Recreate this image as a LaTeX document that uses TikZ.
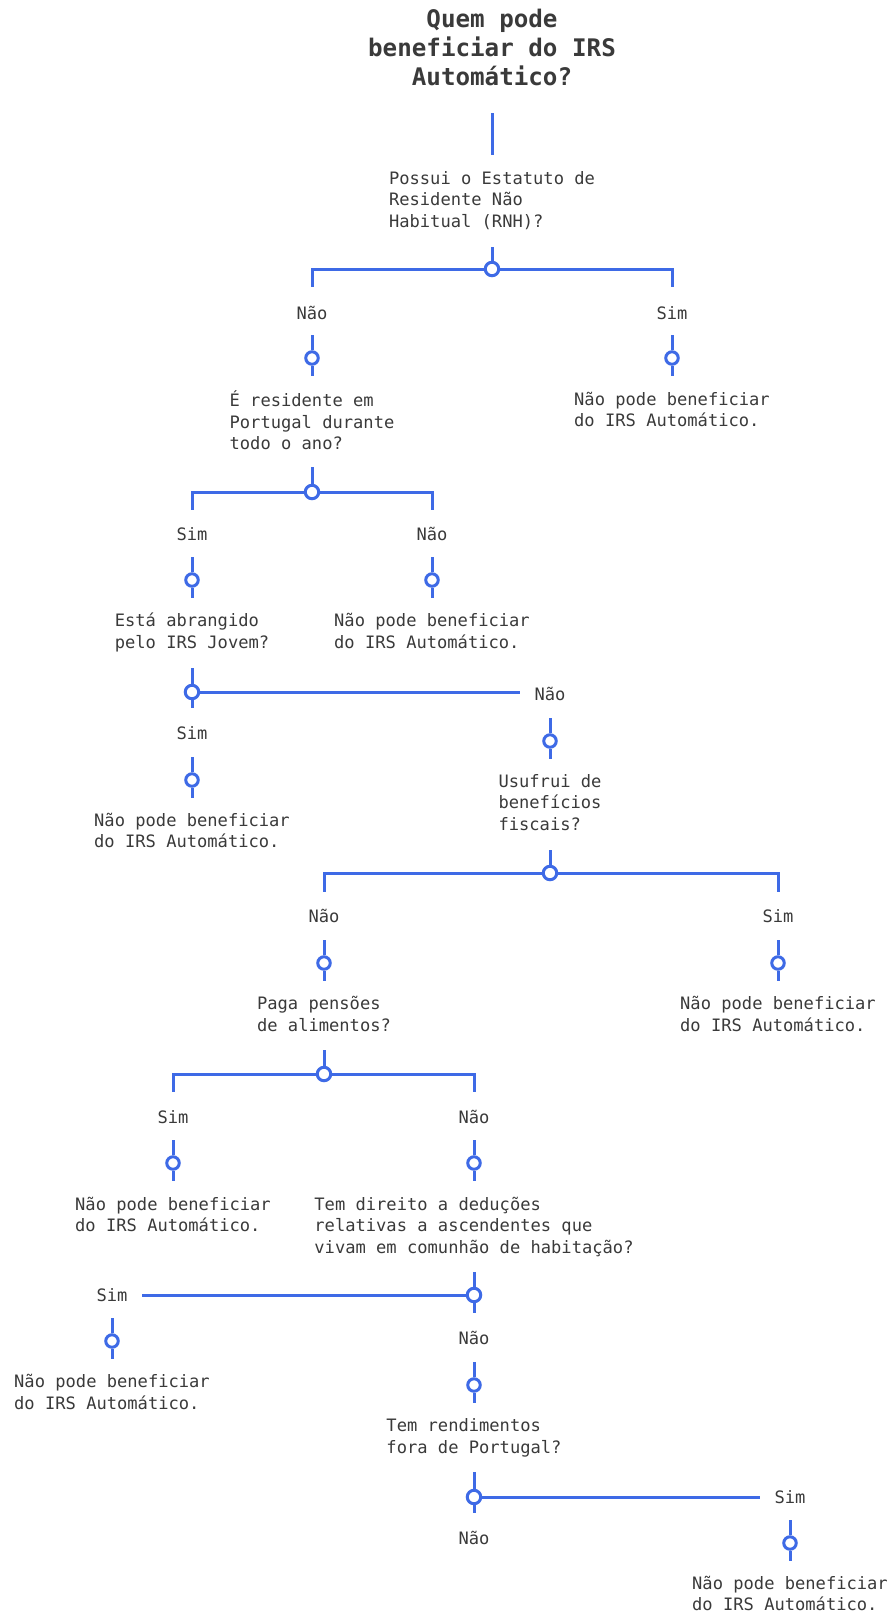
\documentclass[tikz,border=0pt]{standalone}
\usepackage{fontspec}
\newfontfamily\flowmono{DejaVu Sans Mono}
\definecolor{brand}{RGB}{62,106,230}
\definecolor{ink}{RGB}{58,58,58}
\newcommand\flowdot[3]{%
  \node[dot] (#1) at (#2,#3) {};
  \coordinate (#1t) at (#2,#3-23);
  \coordinate (#1b) at (#2,#3+18);
  \draw[lnk] (#1t) -- (#1.north);
  \draw[lnk] (#1.south) -- (#1b);}
\begin{document}
\begin{tikzpicture}[x=1pt,y=-1pt,
  lnk/.style={draw=brand,line width=3pt},
  dot/.style={circle,draw=brand,line width=3pt,fill=white,minimum size=12.5pt,inner sep=0pt},
  jdot/.style={dot,minimum size=13.5pt},
  body/.style={font=\flowmono\fontsize{17.1}{21.5}\selectfont,text=ink,inner sep=0pt,align=left,
    execute at begin node=\strut,execute at end node=\strut},
  lbl/.style={font=\flowmono\fontsize{17.1}{21.5}\selectfont,text=ink,inner sep=0pt,anchor=base,yshift=-6pt},
  ttl/.style={font=\flowmono\bfseries\fontsize{24.2}{29}\selectfont,text=ink,inner sep=0pt,align=center,
    execute at begin node=\strut,execute at end node=\strut}]
\fill[white] (0,0) rectangle (893,1615);
\useasboundingbox (0,0) rectangle (893,1615);

% title
\node[ttl] (title) at (492,52) {Quem pode\\beneficiar do IRS\\Automático?};
\coordinate (t0) at (492,113);
\coordinate (t1) at (492,155);
\draw[lnk] (t0) -- (t1);

% Q1
\node[body] (q1) at (492,202.7) {Possui o Estatuto de\\Residente Não\\Habitual (RNH)?};
\node[jdot] (ja) at (492,269) {};
\coordinate (jaT) at (492,247);
\coordinate (jaL) at (312,287);
\coordinate (jaR) at (672,287);
\draw[lnk] (jaT) -- (ja.north);
\draw[lnk] (ja.west) -| (jaL);
\draw[lnk] (ja.east) -| (jaR);
\node[lbl] (aN) at (312,313) {Não};
\node[lbl] (aS) at (672,313) {Sim};
\flowdot{d1}{312}{358}
\flowdot{d2}{672}{358}
\node[body] (q2) at (312,423.5) {É residente em\\Portugal durante\\todo o ano?};
\node[body] (e1) at (672,412.5) {Não pode beneficiar\\do IRS Automático.};

% Q2
\node[jdot] (jb) at (312,492) {};
\coordinate (jbT) at (312,467);
\coordinate (jbL) at (192,510);
\coordinate (jbR) at (432,510);
\draw[lnk] (jbT) -- (jb.north);
\draw[lnk] (jb.west) -| (jbL);
\draw[lnk] (jb.east) -| (jbR);
\node[lbl] (bS) at (192,534) {Sim};
\node[lbl] (bN) at (432,534) {Não};
\flowdot{d3}{192}{580}
\flowdot{d4}{432}{580}
\node[body] (q3) at (192,634) {Está abrangido\\pelo IRS Jovem?};
\node[body] (e2) at (432,634) {Não pode beneficiar\\do IRS Automático.};

% Q3
\node[jdot] (jc) at (192,692) {};
\coordinate (jcT) at (192,668);
\coordinate (jcB) at (192,708);
\coordinate (jcR) at (520,692);
\draw[lnk] (jcT) -- (jc.north);
\draw[lnk] (jc.south) -- (jcB);
\draw[lnk] (jc.east) -- (jcR);
\node[lbl] (cN) at (550,694) {Não};
\node[lbl] (cS) at (192,733) {Sim};
\flowdot{d5}{192}{780}
\node[body] (e3) at (192,833.5) {Não pode beneficiar\\do IRS Automático.};
\flowdot{d6}{550}{741}
\node[body] (q4) at (550,805.5) {Usufrui de\\benefícios\\fiscais?};

% Q4
\node[jdot] (jd) at (550,873) {};
\coordinate (jdT) at (550,850);
\coordinate (jdL) at (324,892);
\coordinate (jdR) at (778,892);
\draw[lnk] (jdT) -- (jd.north);
\draw[lnk] (jd.west) -| (jdL);
\draw[lnk] (jd.east) -| (jdR);
\node[lbl] (dN) at (324,916) {Não};
\node[lbl] (dS) at (778,916) {Sim};
\flowdot{d7}{324}{963}
\flowdot{d8}{778}{963}
\node[body] (q5) at (324,1017) {Paga pensões\\de alimentos?};
\node[body] (e4) at (778,1017) {Não pode beneficiar\\do IRS Automático.};

% Q5
\node[jdot] (je) at (324,1074) {};
\coordinate (jeT) at (324,1050);
\coordinate (jeL) at (173,1092);
\coordinate (jeR) at (474,1092);
\draw[lnk] (jeT) -- (je.north);
\draw[lnk] (je.west) -| (jeL);
\draw[lnk] (je.east) -| (jeR);
\node[lbl] (eS) at (173,1117) {Sim};
\node[lbl] (eN) at (474,1117) {Não};
\flowdot{d9}{173}{1163}
\flowdot{d10}{474}{1163}
\node[body] (e5) at (173,1217.5) {Não pode beneficiar\\do IRS Automático.};
\node[body] (q6) at (474,1228.5) {Tem direito a deduções\\relativas a ascendentes que\\vivam em comunhão de habitação?};

% Q6
\node[jdot] (jf) at (474,1295) {};
\coordinate (jfT) at (474,1272);
\coordinate (jfB) at (474,1313);
\coordinate (jfL) at (142,1295);
\draw[lnk] (jfT) -- (jf.north);
\draw[lnk] (jf.south) -- (jfB);
\draw[lnk] (jf.west) -- (jfL);
\node[lbl] (fS) at (112,1295) {Sim};
\node[lbl] (fN) at (474,1338) {Não};
\flowdot{d11}{112}{1341}
\node[body] (e6) at (112,1395) {Não pode beneficiar\\do IRS Automático.};
\flowdot{d12}{474}{1385}
\node[body] (q7) at (474,1439) {Tem rendimentos\\fora de Portugal?};

% Q7
\node[jdot] (jg) at (474,1497) {};
\coordinate (jgT) at (474,1472);
\coordinate (jgB) at (474,1513);
\coordinate (jgR) at (760,1497);
\draw[lnk] (jgT) -- (jg.north);
\draw[lnk] (jg.south) -- (jgB);
\draw[lnk] (jg.east) -- (jgR);
\node[lbl] (gS) at (790,1497) {Sim};
\node[lbl] (gN) at (474,1538) {Não};
\flowdot{d13}{790}{1543}
\node[body] (e7) at (790,1596.5) {Não pode beneficiar\\do IRS Automático.};
\end{tikzpicture}
\end{document}
